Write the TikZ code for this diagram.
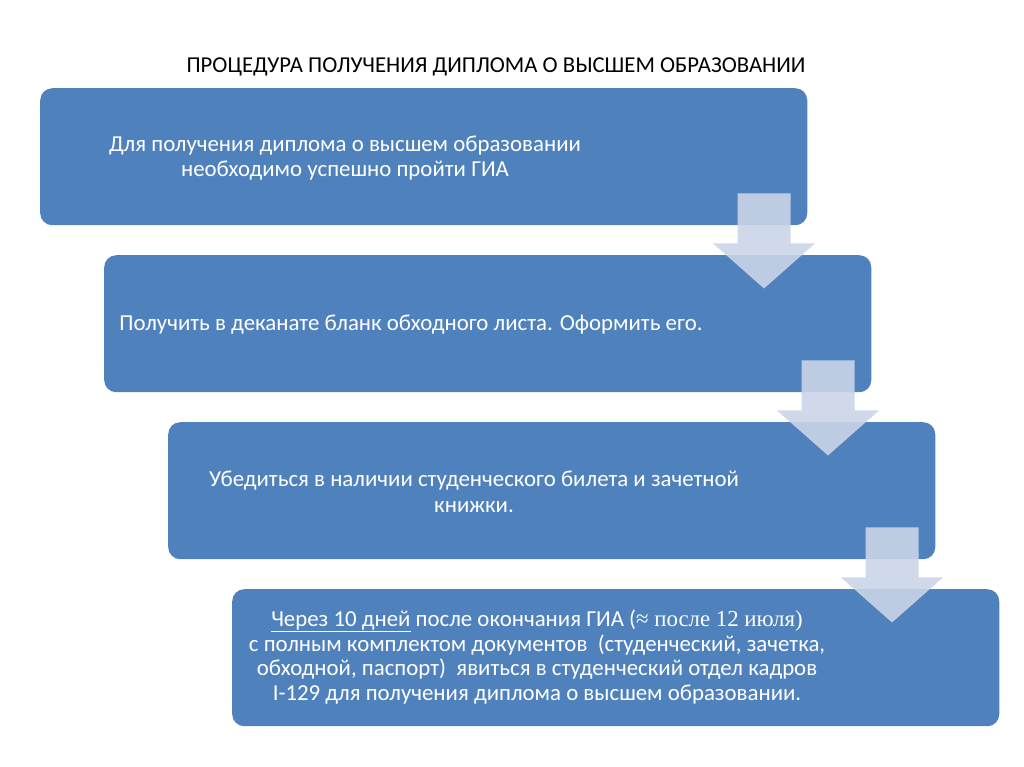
\documentclass[tikz,border=0pt]{standalone}
\usepackage{fontspec}
\setmainfont{Carlito}
\newfontfamily\timesfont{Liberation Serif}
\definecolor{boxblue}{HTML}{4F81BD}
\definecolor{arrowgray}{HTML}{CBD5E8}
\begin{document}
\begin{tikzpicture}[x=0.03cm,y=-0.03cm,
		stepbox/.style={fill=boxblue,rounded corners=3.6mm,minimum width=23.01cm,minimum height=4.11cm,inner sep=0pt,anchor=north west},
		steptext/.style={text=white,align=center,font=\fontsize{19.5}{22}\selectfont},
		downarrow/.style={fill=arrowgray,opacity=.9}]
		\useasboundingbox (0,0) rectangle (1024,767);
		% Tiêu đề
		\node[font=\fontsize{19.4}{22}\selectfont] (title) at (496,67) {ПРОЦЕДУРА ПОЛУЧЕНИЯ ДИПЛОМА О ВЫСШЕМ ОБРАЗОВАНИИ};
		% Các khối
		\node[stepbox] (b1) at (40,88) {};
		\node[stepbox] (b2) at (104,255) {};
		\node[stepbox] (b3) at (168,422) {};
		\node[stepbox] (b4) at (232,589) {};
		\node[steptext] (t1) at (345,158) {Для получения диплома о высшем образовании\\необходимо успешно пройти ГИА};
		\node[steptext] (t2) at (411,325) {Получить в деканате бланк обходного листа. Оформить его.};
		\node[steptext] (t3) at (474,492) {Убедиться в наличии студенческого билета и зачетной\\книжки.};
		\node[steptext,font=\fontsize{19.5}{21.2}\selectfont] (t4) at (537,657) {\underline{Через 10 дней} после окончания ГИА ({\timesfont ≈ после 12 июля)}\\
			с полным комплектом документов \ (студенческий, зачетка,\\
			обходной, паспорт) \ явиться в студенческий отдел кадров\\
			I-129 для получения диплома о высшем образовании.};
		% Mũi tên
		\foreach \i/\j in {1/2,2/3,3/4}
		\fill[downarrow,shift={(b\i.south east)}] (-70,-32) -- (-17,-32) -- (-17,18) -- (7.5,18)
			-- (-43.5,63) -- (-94.5,18) -- (-70,18) -- cycle;
\end{tikzpicture}
\end{document}
